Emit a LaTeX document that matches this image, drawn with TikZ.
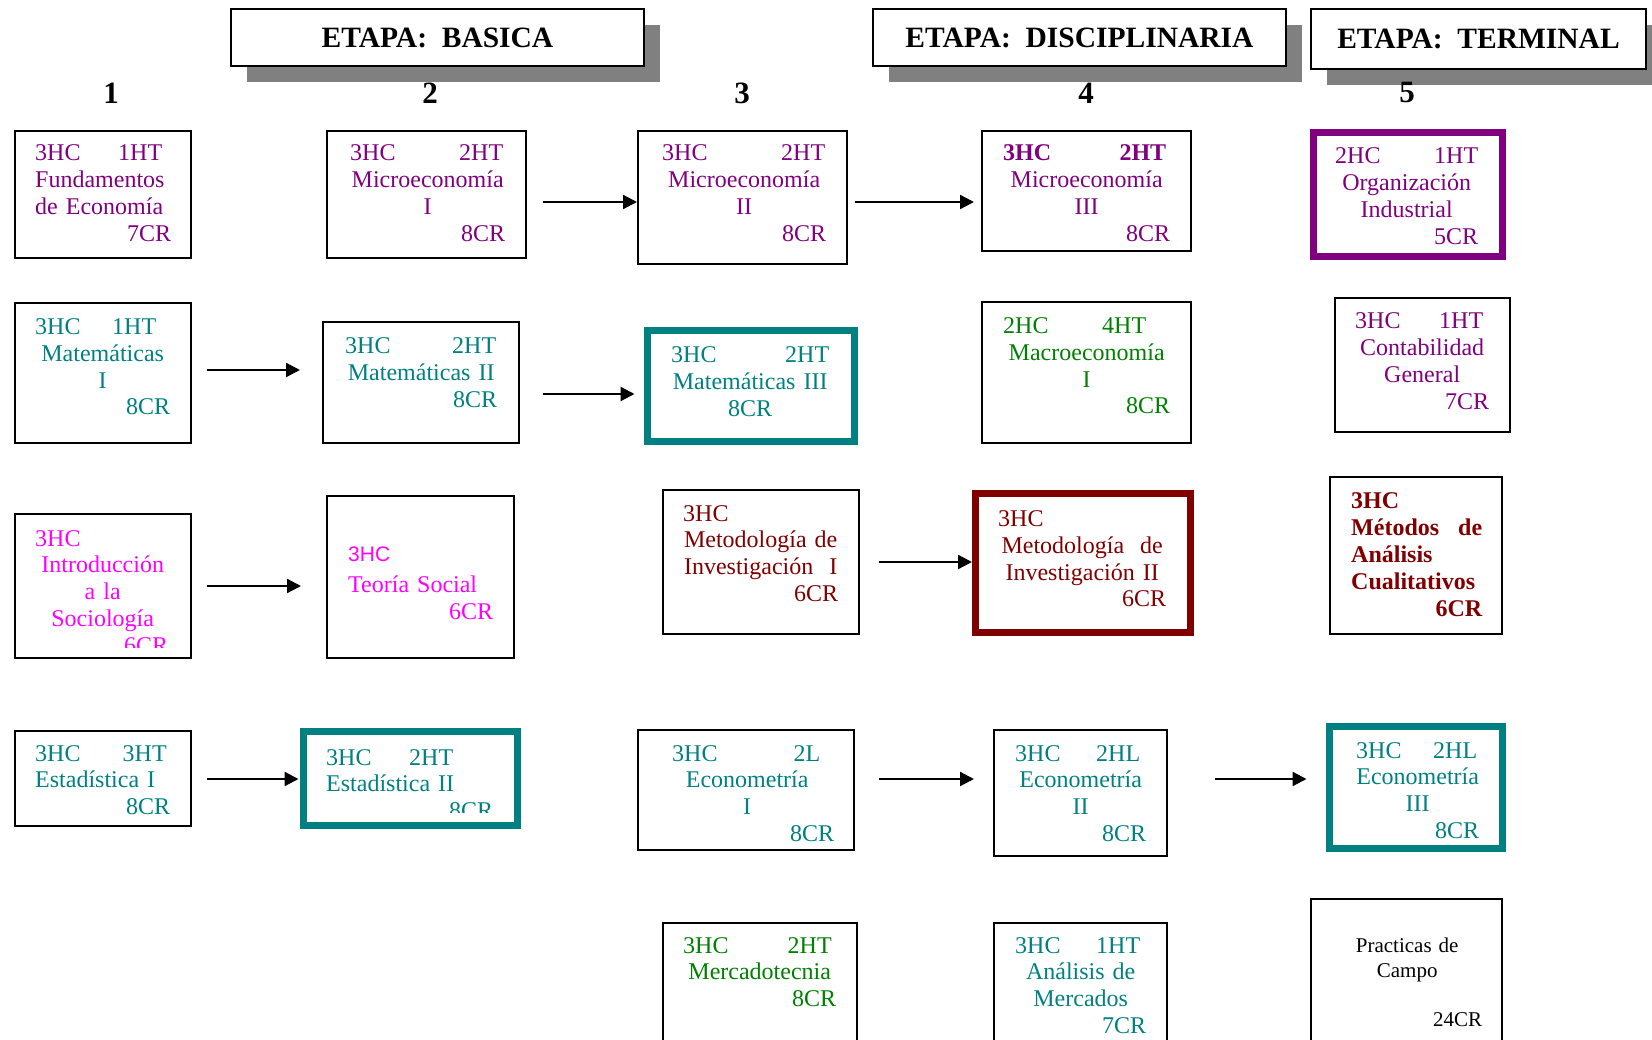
\documentclass[tikz,border=0pt]{standalone}
\usepackage{fontspec}
\setmainfont{Liberation Serif}
\newfontfamily\arialf{Liberation Sans}
\usetikzlibrary{arrows.meta,shadows}
\definecolor{cpurple}{RGB}{128,0,128}
\definecolor{cteal}{RGB}{0,128,128}
\definecolor{cmag}{RGB}{255,0,255}
\definecolor{cmaroon}{RGB}{128,0,0}
\definecolor{cgreen}{RGB}{0,128,0}
\definecolor{cshadow}{RGB}{128,128,128}
\newcommand\myLR[3]{#1\hfill#2\hspace*{#3}\null}
\newcommand\myR[2]{\hfill#1\hspace*{#2}\null}
\newcommand\myC[1]{\hfill#1\hfill\null}
\newcommand\myCo[2]{\hfill#1\hspace*{#2}\hfill\null}
\begin{document}
\begin{tikzpicture}[x=1pt,y=-1pt,
  box/.style={draw=black, line width=2pt, inner sep=0pt},
  tbox/.style={line width=7pt, inner sep=0pt},
  txt/.style={inner sep=0pt, anchor=base west, align=left, font=\fontsize{24}{26.8}\selectfont},
  hdr/.style={draw=black, line width=2pt, fill=white, inner sep=0pt, font=\fontsize{29.5}{32}\selectfont\bfseries, general shadow={fill=cshadow, shadow xshift=16pt, shadow yshift=-16pt}},
  num/.style={inner sep=0pt, font=\fontsize{31}{32}\selectfont\bfseries},
  arr/.style={line width=2.2pt, -{Triangle[length=14pt,width=14pt]}},
]
\useasboundingbox (0,0) rectangle (1652,1040);
\begin{scope}
\clip (0,0) rectangle (1652,1040);

% headers
\node[hdr, minimum width=413pt, minimum height=56.5pt] (bas) at (437.5,37.75) {ETAPA:\ \ BASICA};
\node[hdr, minimum width=413pt, minimum height=56.5pt] (dis) at (1079.5,37.75) {ETAPA:\ \ DISCIPLINARIA};
\node[hdr, minimum width=335pt, minimum height=60pt] (ter) at (1478.5,39) {ETAPA:\ \ TERMINAL};

% column numbers
\node[num] (n1) at (111,93) {1};
\node[num] (n2) at (430,93) {2};
\node[num] (n3) at (742,93) {3};
\node[num] (n4) at (1086,93) {4};
\node[num] (n5) at (1407,93) {5};

% row 1
\node[box, minimum width=176pt, minimum height=127pt] (fund) at (103,194.5) {};
\node[txt, cpurple, text width=136pt] (fundT) at (35,161) {\myLR{3HC}{1HT}{9pt}\\ Fundamentos\\ de Economía\\ \myR{7CR}{0pt}};

\node[box, minimum width=199pt, minimum height=127pt] (micI) at (426.5,194.5) {};
\node[txt, cpurple, text width=155pt] (micIT) at (350,161) {\myLR{3HC}{2HT}{2pt}\\ \myC{Microeconomía}\\ \myC{I}\\ \myR{8CR}{0pt}};

\node[box, minimum width=209pt, minimum height=133pt] (micII) at (742.5,197.5) {};
\node[txt, cpurple, text width=164pt] (micIIT) at (662,161) {\myLR{3HC}{2HT}{1pt}\\ \myC{Microeconomía}\\ \myC{II}\\ \myR{8CR}{0pt}};

\node[box, minimum width=209pt, minimum height=120pt] (micIII) at (1086.5,191) {};
\node[txt, cpurple, text width=167pt] (micIIIT) at (1003,161) {\myLR{\textbf{3HC}}{\textbf{2HT}}{4pt}\\ \myC{Microeconomía}\\ \myC{III}\\ \myR{8CR}{0pt}};

\node[tbox, draw=cpurple, minimum width=189pt, minimum height=124pt] (org) at (1408,194.5) {};
\node[txt, cpurple, text width=143pt] (orgT) at (1335,164) {\myLR{2HC}{1HT}{0pt}\\ \myC{Organización}\\ \myC{Industrial}\\ \myR{5CR}{0pt}};

% row 2
\node[box, minimum width=176pt, minimum height=140pt] (matI) at (103,373) {};
\node[txt, cteal, text width=135pt] (matIT) at (35,334.6) {\myLR{3HC}{1HT}{14pt}\\ \myC{Matemáticas}\\ \myC{I}\\ \myR{8CR}{0pt}};

\node[box, minimum width=196pt, minimum height=121pt] (matII) at (421,382.5) {};
\node[txt, cteal, text width=152pt] (matIIT) at (345,353.6) {\myLR{3HC}{2HT}{1pt}\\ \myC{Matemáticas II}\\ \myR{8CR}{0pt}};

\node[tbox, draw=cteal, minimum width=207pt, minimum height=111pt] (matIII) at (751,386) {};
\node[txt, cteal, text width=158pt] (matIIIT) at (671,363) {\myLR{3HC}{2HT}{0pt}\\ \myC{Matemáticas III}\\ \myC{8CR}};

\node[box, minimum width=209pt, minimum height=141pt] (macI) at (1086.5,372.5) {};
\node[txt, cgreen, text width=167pt] (macIT) at (1003,333.6) {\myLR{2HC}{4HT}{24pt}\\ \myC{Macroeconomía}\\ \myC{I}\\ \myR{8CR}{0pt}};

\node[box, minimum width=175pt, minimum height=134pt] (cont) at (1422.5,365) {};
\node[txt, cpurple, text width=134pt] (contT) at (1355,329) {\myLR{3HC}{1HT}{6pt}\\ \myC{Contabilidad}\\ \myC{General}\\ \myR{7CR}{0pt}};

% row 3
\node[box, minimum width=176pt, minimum height=144pt] (intro) at (103,586) {};
\begin{scope}
\clip (17,516) rectangle (189,647);
\node[txt, cmag, text width=135pt] (introT) at (35,546) {3HC\\ \myC{Introducción}\\ \myC{a la}\\ \myC{Sociología}\\ \myR{6CR}{2pt}};
\end{scope}

\node[box, minimum width=187pt, minimum height=162pt] (teoria) at (420.5,577) {};
\node[txt, cmag, text width=145pt] (teoriaT) at (348,561) {{\arialf\fontsize{21}{24}\selectfont 3HC}\\[5pt] Teoría Social\\ \myR{6CR}{0pt}};

\node[box, minimum width=196pt, minimum height=144pt] (metI) at (761,562) {};
\node[txt, cmaroon, text width=155pt] (metIT) at (683,521) {3HC\\ \myC{Metodología de}\\ \myC{Investigación\ \ I}\\ \myR{6CR}{0pt}};

\node[tbox, draw=cmaroon, minimum width=215pt, minimum height=139pt] (metII) at (1083,563) {};
\node[txt, cmaroon, text width=168pt] (metIIT) at (998,526.4) {3HC\\ \myC{Metodología\ \ de}\\ \myC{Investigación II}\\ \myR{6CR}{0pt}};

\node[box, minimum width=172pt, minimum height=157pt] (metodos) at (1416,555.5) {};
\node[txt, cmaroon, text width=131pt, font=\fontsize{24}{27}\selectfont\bfseries] (metodosT) at (1351,508.5) {3HC\\ \myLR{Métodos}{de}{0pt}\\ Análisis\\ Cualitativos\\ \myR{6CR}{0pt}};

% row 4
\node[box, minimum width=176pt, minimum height=95pt] (estI) at (103,778.5) {};
\node[txt, cteal, text width=135pt] (estIT) at (35,761) {\myLR{3HC}{3HT}{3.5pt}\\ Estadística I\\ \myR{8CR}{0pt}};

\node[tbox, draw=cteal, minimum width=214pt, minimum height=94pt] (estII) at (410.5,778.5) {};
\begin{scope}
\clip (305,733) rectangle (516,812);
\node[txt, cteal, text width=167pt] (estIIT) at (326,765) {\makebox[83pt][l]{3HC}2HT\\ Estadística II\\ \myR{8CR}{0pt}};
\end{scope}

\node[box, minimum width=216pt, minimum height=120pt] (ecoI) at (746,790) {};
\node[txt, cteal, text width=162pt] (ecoIT) at (672,761) {\myLR{3HC}{2L}{14pt}\\ \myCo{Econometría}{12pt}\\ \myCo{I}{12pt}\\ \myR{8CR}{0pt}};

\node[box, minimum width=173pt, minimum height=126pt] (ecoII) at (1080.5,793) {};
\node[txt, cteal, text width=131pt] (ecoIIT) at (1015,761) {\myLR{3HC}{2HL}{6pt}\\ \myC{Econometría}\\ \myC{II}\\ \myR{8CR}{0pt}};

\node[tbox, draw=cteal, minimum width=173pt, minimum height=122pt] (ecoIII) at (1416,787.5) {};
\node[txt, cteal, text width=123pt] (ecoIIIT) at (1356,758) {\myLR{3HC}{2HL}{2pt}\\ \myC{Econometría}\\ \myC{III}\\ \myR{8CR}{0pt}};

% row 5
\node[box, minimum width=194pt, minimum height=137pt] (merca) at (760,991.5) {};
\node[txt, cgreen, text width=153pt] (mercaT) at (683,953) {\myLR{3HC}{2HT}{4.5pt}\\ \myC{Mercadotecnia}\\ \myR{8CR}{0pt}};

\node[box, minimum width=173pt, minimum height=137pt] (anal) at (1080.5,991.5) {};
\node[txt, cteal, text width=131pt] (analT) at (1015,953) {\myLR{3HC}{1HT}{6pt}\\ \myC{Análisis de}\\ \myC{Mercados}\\ \myR{7CR}{0pt}};

\node[box, minimum width=191pt, minimum height=161pt] (pract) at (1406.5,979.5) {};
\node[txt, black, text width=150pt, font=\fontsize{21}{25}\selectfont] (practT) at (1332,952) {\myC{Practicas de}\\ \myC{Campo}\\[24pt] \myR{24CR}{0pt}};

% arrows
\draw[arr] ([xshift=16pt,yshift=-7.5pt]micI.east) -- ([yshift=-4.5pt]micII.west);
\draw[arr] ([xshift=7pt,yshift=-4.5pt]micII.east) -- ([xshift=-7pt,yshift=-11pt]micIII.west);
\draw[arr] ([xshift=15pt,yshift=3pt]matI.east) -- ([xshift=-22pt,yshift=12.5pt]matII.west);
\draw[arr] ([xshift=23pt,yshift=-11.5pt]matII.east) -- ([xshift=-9.5pt,yshift=-8pt]matIII.west);
\draw[arr] ([xshift=15pt]intro.east) -- ([xshift=-25pt,yshift=-9pt]teoria.west);
\draw[arr] ([xshift=19pt]metI.east) -- ([yshift=1pt]metII.west);
\draw[arr] ([xshift=15pt,yshift=-0.5pt]estI.east) -- ([xshift=-1.5pt,yshift=-0.5pt]estII.west);
\draw[arr] ([xshift=24pt,yshift=11pt]ecoI.east) -- ([xshift=-19pt,yshift=14pt]ecoII.west);
\draw[arr] ([xshift=47pt,yshift=14pt]ecoII.east) -- ([xshift=-19.5pt,yshift=8.5pt]ecoIII.west);
\end{scope}
\end{tikzpicture}
\end{document}
